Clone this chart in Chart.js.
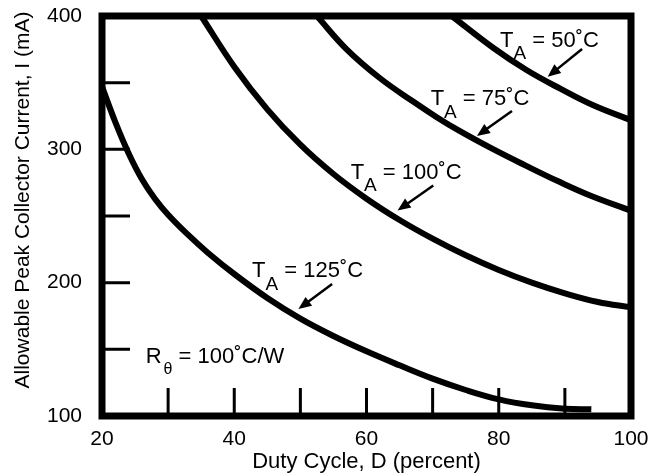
<!DOCTYPE html>
<html>
<head>
<meta charset="utf-8">
<script src="https://cdn.jsdelivr.net/npm/chart.js@4.4.0/dist/chart.umd.min.js"></script>
<style>
  html, body { margin: 0; padding: 0; background: #fff; }
  #wrap { width: 648px; height: 476px; }
</style>
</head>
<body>
<div id="wrap"><canvas id="chart" width="648" height="476"></canvas></div>
<script>
// Allowable peak collector current vs duty cycle (R_theta = 100 C/W)

// duty cycle (percent) and current (mA), one pair per curve
const duty50  = [72.9, 79.2, 84.2, 89.3, 94.3, 100];
const amps50  = [400, 376, 359.5, 345.5, 333, 321.8];

const duty75  = [52.5, 57, 62, 67, 70.5, 74, 79, 84, 89, 94, 100];
const amps75  = [400, 375, 353.5, 336, 324.5, 314, 300.5, 288, 276, 265, 254];

const duty100 = [35, 40, 45, 50, 55, 60, 65, 70, 75, 80, 85, 90, 95, 100];
const amps100 = [400, 362, 330, 303.5, 281.5, 263, 247, 233, 220.5, 209.5, 200, 192, 185.5, 181.5];

const duty125 = [20, 22, 24, 26, 28, 30, 33, 36, 40, 45, 50, 55, 60, 65, 70, 75, 80, 85, 90, 94];
const amps125 = [347, 320.6, 297.3, 278, 263, 251, 236, 222.5, 206.5, 188.5, 173, 160, 148.5, 138, 128, 119.5, 112.5, 108, 105.5, 105];

// axis ticks
const xTickLabels = [20, 40, 60, 80, 100];
const yTickLabels = [100, 200, 300, 400];
const xTickMarks = [30, 40, 50, 60, 70, 80, 90];
const yTickMarks = [150, 200, 250, 300, 350];

// curve labels: text anchor and arrow (from -> to) in data units
const curveNotes = [
  { main: 'T', sub: 'A', rest: ' = 50˚C',  at: [80.2, 376.9], from: [92.6, 375.2], to: [87.4, 354.4] },
  { main: 'T', sub: 'A', rest: ' = 75˚C',  at: [69.7, 333.1], from: [82.0, 328.8], to: [76.7, 310.0] },
  { main: 'T', sub: 'A', rest: ' = 100˚C', at: [57.6, 278.0], from: [70.1, 272.9], to: [64.7, 254.1] },
  { main: 'T', sub: 'A', rest: ' = 125˚C', at: [42.7, 204.0], from: [54.8, 199.0], to: [49.7, 180.2] },
  { main: 'R', sub: 'θ', rest: ' = 100˚C/W', at: [26.6, 139.6] }
];

const FONT = '"Liberation Sans", Arial, Helvetica, sans-serif';
Chart.defaults.font.family = FONT;
Chart.defaults.color = '#000';

const toPoints = (xs, ys) => xs.map((x, i) => ({ x, y: ys[i] }));

function curve(xs, ys) {
  return {
    data: toPoints(xs, ys),
    showLine: true,
    borderColor: '#000',
    borderWidth: 6,
    borderCapStyle: 'butt',
    pointRadius: 0,
    tension: 0.4,
    fill: false
  };
}

function drawArrow(ctx, x1, y1, x2, y2) {
  const ang = Math.atan2(y2 - y1, x2 - x1);
  const len = 13, half = 5.5;
  ctx.lineWidth = 2.5;
  ctx.beginPath();
  ctx.moveTo(x1, y1);
  ctx.lineTo(x2 - Math.cos(ang) * (len - 2), y2 - Math.sin(ang) * (len - 2));
  ctx.stroke();
  ctx.beginPath();
  ctx.moveTo(x2, y2);
  ctx.lineTo(x2 - len * Math.cos(ang) + half * Math.sin(ang), y2 - len * Math.sin(ang) - half * Math.cos(ang));
  ctx.lineTo(x2 - len * Math.cos(ang) - half * Math.sin(ang), y2 - len * Math.sin(ang) + half * Math.cos(ang));
  ctx.closePath();
  ctx.fill();
}

// frame, inward ticks, curve labels and the y title
const decorations = {
  id: 'decorations',
  afterDatasetsDraw(chart) {
    const { ctx, chartArea: a, scales: { x, y } } = chart;
    ctx.save();
    ctx.strokeStyle = '#000';
    ctx.fillStyle = '#000';

    ctx.lineWidth = 3;
    ctx.beginPath();
    xTickMarks.forEach(v => {
      const px = x.getPixelForValue(v);
      ctx.moveTo(px, a.bottom);
      ctx.lineTo(px, a.bottom - 28);
    });
    yTickMarks.forEach(v => {
      const py = y.getPixelForValue(v);
      ctx.moveTo(a.left, py);
      ctx.lineTo(a.left + 28, py);
    });
    ctx.stroke();

    ctx.lineWidth = 7;
    ctx.lineJoin = 'miter';
    ctx.strokeRect(a.left, a.top, a.right - a.left, a.bottom - a.top);

    ctx.textBaseline = 'alphabetic';
    ctx.textAlign = 'left';
    curveNotes.forEach(n => {
      const px = x.getPixelForValue(n.at[0]);
      const py = y.getPixelForValue(n.at[1]);
      const isTheta = n.sub === 'θ';
      ctx.font = '22px ' + FONT;
      ctx.fillText(n.main, px, py);
      let w = ctx.measureText(n.main).width;
      ctx.font = (isTheta ? '16px ' : '19px ') + FONT;
      ctx.fillText(n.sub, px + w + (isTheta ? 2 : 0), py + (isTheta ? 11 : 12.5));
      w += ctx.measureText(n.sub).width + (isTheta ? 2 : 0);
      ctx.font = '22px ' + FONT;
      ctx.fillText(n.rest, px + w, py);
      if (n.from) {
        drawArrow(ctx,
          x.getPixelForValue(n.from[0]), y.getPixelForValue(n.from[1]),
          x.getPixelForValue(n.to[0]), y.getPixelForValue(n.to[1]));
      }
    });

    ctx.translate(23, 200);
    ctx.rotate(-Math.PI / 2);
    ctx.textAlign = 'center';
    ctx.textBaseline = 'middle';
    ctx.font = '21px ' + FONT;
    ctx.fillText('Allowable Peak Collector Current, I (mA)', 0, 0);
    ctx.restore();
  }
};

new Chart(document.getElementById('chart'), {
  type: 'scatter',
  data: {
    datasets: [
      curve(duty50, amps50),
      curve(duty75, amps75),
      curve(duty100, amps100),
      curve(duty125, amps125)
    ]
  },
  options: {
    responsive: false,
    animation: false,
    layout: { padding: { top: 16, right: 17, left: 0, bottom: 0 } },
    plugins: {
      legend: { display: false },
      tooltip: { enabled: false }
    },
    scales: {
      x: {
        type: 'linear',
        min: 20,
        max: 100,
        afterBuildTicks: s => { s.ticks = xTickLabels.map(v => ({ value: v })); },
        afterFit: s => { s.height = 60; s.paddingLeft = 0; s.paddingRight = 0; },
        ticks: { font: { size: 21 }, padding: 11, maxRotation: 0 },
        grid: { display: false, drawTicks: false },
        border: { display: false },
        title: {
          display: true,
          text: 'Duty Cycle, D (percent)',
          font: { size: 22 },
          padding: { top: 0, bottom: 1 }
        }
      },
      y: {
        type: 'linear',
        min: 100,
        max: 400,
        afterBuildTicks: s => { s.ticks = yTickLabels.map(v => ({ value: v })); },
        afterFit: s => { s.width = 102; s.paddingTop = 0; s.paddingBottom = 0; },
        ticks: { font: { size: 21 }, padding: 20 },
        grid: { display: false, drawTicks: false },
        border: { display: false }
      }
    }
  },
  plugins: [decorations]
});
</script>
</body>
</html>
